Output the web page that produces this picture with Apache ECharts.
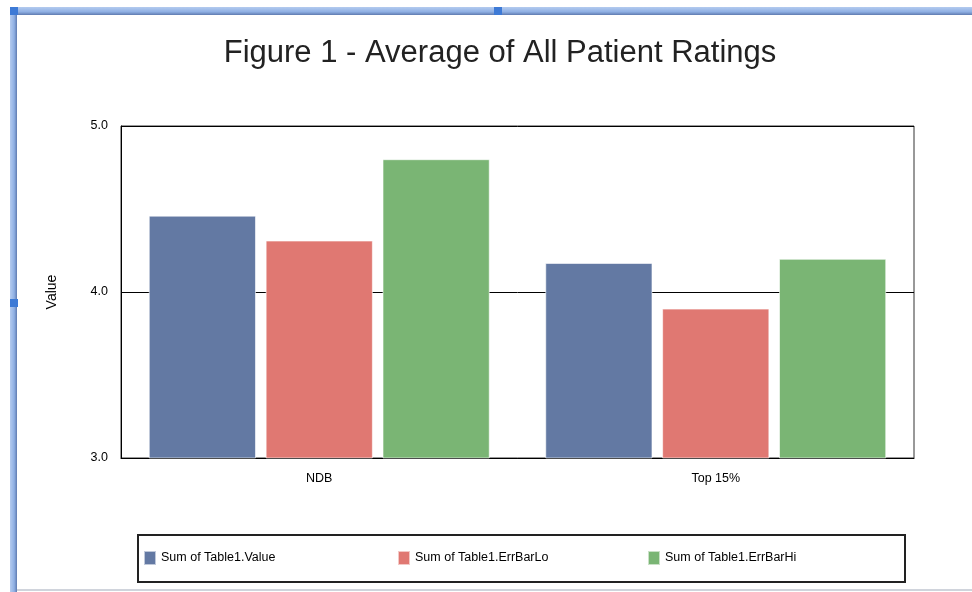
<!DOCTYPE html>
<html>
<head>
<meta charset="utf-8">
<title>Figure 1 - Average of All Patient Ratings</title>
<script src="https://cdn.jsdelivr.net/npm/echarts@6/dist/echarts.min.js"></script>
<style>
  html, body { margin: 0; padding: 0; background: #fff; }
  #wrap { position: relative; width: 972px; height: 592px; overflow: hidden; }
  #main { position: absolute; left: 0; top: 0; width: 972px; height: 592px; }
  /* blue frame of the embedding window */
  .bar-top { position: absolute; left: 10px; top: 7px; width: 962px; height: 8px;
    background: linear-gradient(to bottom, #b4cbef, #8fb0e4 60%, #5f7bb0); }
  .bar-left { position: absolute; left: 10px; top: 7px; width: 7px; height: 585px;
    background: linear-gradient(to right, #b4cbef, #8fb0e4 60%, #5f7bb0); }
  .knob { position: absolute; width: 8px; height: 8px; background: #3d7ad6; }
  .bottom-line { position: absolute; left: 17px; top: 589px; width: 955px; height: 2px; background: #d0d4dc; }
</style>
</head>
<body>
<div id="wrap">
  <div id="main"></div>
  <div class="bar-top"></div>
  <div class="bar-left"></div>
  <div class="knob" style="left:10px;top:7px"></div>
  <div class="knob" style="left:494px;top:7px"></div>
  <div class="knob" style="left:10px;top:299px"></div>
  <div class="bottom-line"></div>
</div>
<script>
// 数据
var categories = ["NDB", "Top 15%"];
var seriesNames = ["Sum of Table1.Value", "Sum of Table1.ErrBarLo", "Sum of Table1.ErrBarHi"];
var valueData = [4.46, 4.175];
var errLoData = [4.31, 3.90];
var errHiData = [4.80, 4.20];
var colors = ["#6379a3", "#e07872", "#7ab574"];
var legendLeft = [143, 397, 647];

var myChart = echarts.init(document.getElementById("main"));
var font = "Liberation Sans, Arial, sans-serif";

function barSeries(name, data, color) {
  return {
    name: name,
    type: "bar",
    data: data,
    barGap: "9%",
    barCategoryGap: "14%",
    itemStyle: { color: color, borderColor: "rgba(255,255,255,0.6)", borderWidth: 1 },
    animation: false,
  };
}

// 每个图例单独一个，位置固定
var legends = seriesNames.map(function (name, i) {
  return {
    left: legendLeft[i],
    top: 550,
    padding: 0,
    icon: "rect",
    itemWidth: 12,
    itemHeight: 14,
    data: [name],
    z: 10,
    textStyle: { fontFamily: font, fontSize: 12.5, color: "#000" },
  };
});

var option = {
  backgroundColor: "#fff",
  title: {
    text: "Figure 1 - Average of All Patient Ratings",
    left: 495,
    textAlign: "center",
    top: 33,
    textStyle: { fontFamily: font, fontSize: 31, fontWeight: "normal", color: "#222" },
  },
  grid: { left: 121, right: 58, top: 126, bottom: 134, show: true, borderColor: "#333", borderWidth: 1 },
  legend: legends,
  graphic: [
    {
      type: "rect",
      left: 137,
      top: 534,
      z: 1,
      shape: { width: 767, height: 47 },
      style: { fill: "#fff", stroke: "#222", lineWidth: 2 },
    },
  ],
  xAxis: {
    type: "category",
    data: categories,
    axisLine: { lineStyle: { color: "#000" } },
    axisTick: { show: false },
    axisLabel: { color: "#000", fontFamily: font, fontSize: 12.5, margin: 14 },
  },
  yAxis: {
    type: "value",
    min: 3,
    max: 5,
    interval: 1,
    name: "Value",
    nameLocation: "middle",
    nameGap: 62,
    nameTextStyle: { fontFamily: font, fontSize: 14, color: "#000" },
    axisLine: { show: true, lineStyle: { color: "#000" } },
    axisTick: { show: false },
    axisLabel: { color: "#000", fontFamily: font, fontSize: 12.5, margin: 13, formatter: function (v) { return v.toFixed(1); } },
    splitLine: { show: true, lineStyle: { color: "#000", width: 1 } },
  },
  series: [
    barSeries(seriesNames[0], valueData, colors[0]),
    barSeries(seriesNames[1], errLoData, colors[1]),
    barSeries(seriesNames[2], errHiData, colors[2]),
  ],
};
myChart.setOption(option);
</script>
</body>
</html>
